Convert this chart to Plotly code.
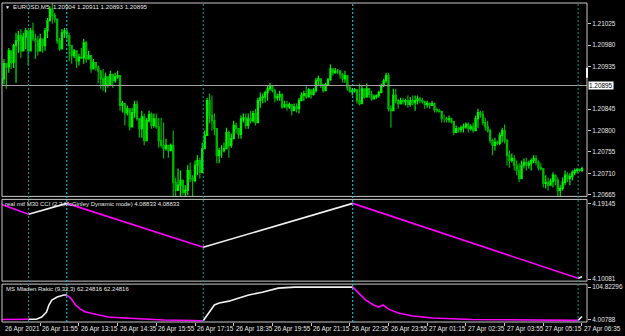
import numpy as np
import pandas as pd
import plotly.graph_objects as go

# ---------------- data ----------------
chart_title = "EURUSD,M5  1.20904 1.20911 1.20893 1.20895"
cci_title = "real mtf M30 CCI (2,2,McGinley Dynamic mode) 4.08833 4.08833"
rakic_title = "MS Mladen Rakic (9,32,3) 62.24816 62.24816"
start_time = "2021-04-26 10:35"
first_open = 1.20900

high = [1.20943,1.20951,1.20941,1.20974,1.20958,1.20983,1.21006,1.21010,1.21014,1.21006,
        1.21016,1.21004,1.21016,1.21027,1.21004,1.21000,1.21004,1.20993,1.21016,1.21037,
        1.21062,1.21069,1.21048,1.21035,1.20995,1.21014,1.21016,1.21010,1.21006,1.20979,
        1.20972,1.20968,1.20962,1.20974,1.20993,1.20989,1.20968,1.20953,1.20951,1.20943,
        1.20937,1.20926,1.20930,1.20922,1.20911,1.20926,1.20920,1.20922,1.20926,1.20911,
        1.20863,1.20857,1.20853,1.20836,1.20848,1.20863,1.20863,1.20825,1.20842,1.20836,
        1.20827,1.20842,1.20838,1.20836,1.20836,1.20827,1.20827,1.20817,1.20783,1.20769,
        1.20773,1.20800,1.20701,1.20720,1.20716,1.20695,1.20685,1.20727,1.20733,1.20706,
        1.20737,1.20748,1.20743,1.20775,1.20800,1.20869,1.20878,1.20874,1.20836,1.20804,
        1.20764,1.20769,1.20775,1.20806,1.20800,1.20794,1.20821,1.20817,1.20804,1.20832,
        1.20836,1.20836,1.20836,1.20842,1.20842,1.20846,1.20869,1.20880,1.20878,1.20884,
        1.20895,1.20901,1.20895,1.20888,1.20878,1.20884,1.20878,1.20863,1.20863,1.20859,
        1.20853,1.20857,1.20857,1.20869,1.20880,1.20884,1.20895,1.20890,1.20884,1.20890,
        1.20911,1.20916,1.20905,1.20899,1.20901,1.20911,1.20939,1.20930,1.20932,1.20930,
        1.20926,1.20922,1.20926,1.20909,1.20895,1.20890,1.20890,1.20884,1.20899,1.20895,
        1.20876,1.20899,1.20890,1.20884,1.20876,1.20876,1.20884,1.20899,1.20909,1.20922,
        1.20922,1.20853,1.20888,1.20888,1.20867,1.20869,1.20869,1.20867,1.20874,1.20871,
        1.20874,1.20874,1.20874,1.20871,1.20869,1.20863,1.20863,1.20859,1.20863,1.20859,
        1.20848,1.20846,1.20842,1.20834,1.20829,1.20832,1.20827,1.20821,1.20811,1.20808,
        1.20811,1.20815,1.20817,1.20817,1.20813,1.20817,1.20832,1.20846,1.20842,1.20842,
        1.20827,1.20821,1.20804,1.20783,1.20785,1.20779,1.20796,1.20806,1.20813,1.20783,
        1.20758,1.20752,1.20748,1.20737,1.20731,1.20737,1.20741,1.20743,1.20737,1.20741,
        1.20748,1.20748,1.20737,1.20731,1.20720,1.20706,1.20701,1.20699,1.20712,1.20706,
        1.20701,1.20685,1.20701,1.20716,1.20712,1.20710,1.20716,1.20720,1.20722,1.20720,1.20724]

low = [1.20895,1.20897,1.20888,1.20922,1.20930,1.20932,1.20901,1.20964,1.20953,1.20985,
       1.20972,1.20937,1.20979,1.20989,1.20951,1.20958,1.20972,1.20964,1.20968,1.20995,
       1.21031,1.21025,1.21027,1.20983,1.20968,1.20989,1.20995,1.20989,1.20947,1.20941,
       1.20953,1.20932,1.20937,1.20951,1.20941,1.20943,1.20951,1.20922,1.20932,1.20926,
       1.20899,1.20888,1.20884,1.20880,1.20890,1.20899,1.20890,1.20901,1.20909,1.20842,
       1.20838,1.20811,1.20832,1.20800,1.20815,1.20827,1.20821,1.20785,1.20785,1.20769,
       1.20806,1.20817,1.20804,1.20806,1.20804,1.20764,1.20764,1.20741,1.20758,1.20743,
       1.20762,1.20659,1.20659,1.20678,1.20659,1.20664,1.20659,1.20664,1.20691,1.20659,
       1.20691,1.20706,1.20699,1.20710,1.20762,1.20790,1.20815,1.20800,1.20790,1.20731,
       1.20731,1.20743,1.20754,1.20764,1.20743,1.20764,1.20783,1.20794,1.20783,1.20783,
       1.20817,1.20804,1.20804,1.20815,1.20817,1.20811,1.20842,1.20848,1.20857,1.20859,
       1.20863,1.20884,1.20880,1.20859,1.20863,1.20863,1.20846,1.20848,1.20842,1.20846,
       1.20832,1.20842,1.20838,1.20836,1.20863,1.20863,1.20867,1.20878,1.20867,1.20874,
       1.20880,1.20895,1.20890,1.20880,1.20890,1.20895,1.20905,1.20916,1.20920,1.20920,
       1.20909,1.20901,1.20901,1.20884,1.20880,1.20874,1.20880,1.20857,1.20853,1.20880,
       1.20867,1.20869,1.20869,1.20863,1.20867,1.20867,1.20869,1.20880,1.20892,1.20901,
       1.20840,1.20806,1.20842,1.20857,1.20846,1.20855,1.20855,1.20853,1.20848,1.20850,
       1.20853,1.20842,1.20855,1.20857,1.20857,1.20846,1.20848,1.20846,1.20853,1.20838,
       1.20838,1.20838,1.20817,1.20817,1.20817,1.20817,1.20815,1.20790,1.20796,1.20796,
       1.20796,1.20796,1.20804,1.20796,1.20800,1.20796,1.20800,1.20806,1.20827,1.20811,
       1.20800,1.20796,1.20773,1.20748,1.20758,1.20769,1.20769,1.20775,1.20773,1.20727,
       1.20722,1.20733,1.20716,1.20706,1.20691,1.20706,1.20720,1.20716,1.20720,1.20716,
       1.20731,1.20727,1.20716,1.20716,1.20680,1.20678,1.20674,1.20685,1.20680,1.20685,
       1.20661,1.20661,1.20674,1.20685,1.20691,1.20685,1.20695,1.20706,1.20710,1.20712,1.20712]

close = [1.20909,1.20941,1.20934,1.20968,1.20943,1.20979,1.20989,1.21000,1.20968,1.20997,
         1.21010,1.20968,1.21010,1.20993,1.20989,1.20968,1.20993,1.20979,1.21010,1.21031,
         1.21056,1.21042,1.21035,1.20989,1.20972,1.21006,1.21010,1.21000,1.20979,1.20958,
         1.20968,1.20947,1.20955,1.20953,1.20985,1.20951,1.20958,1.20930,1.20943,1.20934,
         1.20926,1.20909,1.20895,1.20913,1.20897,1.20918,1.20905,1.20913,1.20916,1.20853,
         1.20857,1.20838,1.20846,1.20808,1.20838,1.20855,1.20825,1.20804,1.20829,1.20779,
         1.20821,1.20834,1.20811,1.20825,1.20808,1.20779,1.20769,1.20762,1.20769,1.20758,
         1.20769,1.20691,1.20674,1.20685,1.20695,1.20670,1.20674,1.20716,1.20699,1.20695,
         1.20727,1.20737,1.20712,1.20762,1.20790,1.20863,1.20832,1.20821,1.20804,1.20748,
         1.20758,1.20758,1.20762,1.20796,1.20769,1.20783,1.20811,1.20804,1.20792,1.20825,
         1.20827,1.20811,1.20825,1.20821,1.20836,1.20817,1.20863,1.20869,1.20871,1.20880,
         1.20888,1.20895,1.20884,1.20869,1.20871,1.20876,1.20850,1.20855,1.20850,1.20855,
         1.20842,1.20850,1.20846,1.20863,1.20874,1.20878,1.20871,1.20886,1.20876,1.20884,
         1.20905,1.20909,1.20897,1.20884,1.20897,1.20907,1.20930,1.20922,1.20926,1.20926,
         1.20918,1.20909,1.20916,1.20890,1.20882,1.20884,1.20886,1.20863,1.20857,1.20888,
         1.20871,1.20888,1.20876,1.20867,1.20871,1.20874,1.20880,1.20895,1.20905,1.20916,
         1.20846,1.20842,1.20874,1.20863,1.20857,1.20863,1.20861,1.20863,1.20855,1.20863,
         1.20859,1.20863,1.20867,1.20863,1.20861,1.20855,1.20857,1.20853,1.20857,1.20844,
         1.20842,1.20840,1.20825,1.20825,1.20823,1.20825,1.20819,1.20796,1.20804,1.20802,
         1.20806,1.20808,1.20813,1.20804,1.20808,1.20800,1.20825,1.20838,1.20834,1.20817,
         1.20808,1.20800,1.20779,1.20769,1.20775,1.20773,1.20790,1.20800,1.20779,1.20748,
         1.20737,1.20741,1.20727,1.20716,1.20699,1.20727,1.20733,1.20727,1.20731,1.20737,
         1.20741,1.20733,1.20722,1.20720,1.20689,1.20691,1.20685,1.20693,1.20706,1.20695,
         1.20674,1.20678,1.20691,1.20706,1.20699,1.20703,1.20712,1.20716,1.20718,1.20716,1.20720]

bid_price = 1.20895
price_ticks = [1.20665, 1.20710, 1.20755, 1.20800, 1.20845, 1.20935, 1.20980, 1.21025]
time_labels = ["26 Apr 2021", "26 Apr 11:55", "26 Apr 13:15", "26 Apr 14:35", "26 Apr 15:55",
               "26 Apr 17:15", "26 Apr 18:35", "26 Apr 19:55", "26 Apr 21:15", "26 Apr 22:35",
               "26 Apr 23:55", "27 Apr 01:15", "27 Apr 02:35", "27 Apr 03:55", "27 Apr 05:15",
               "27 Apr 06:35"]
time_label_times = ["2021-04-26 10:35", "2021-04-26 11:55", "2021-04-26 13:15", "2021-04-26 14:35",
                    "2021-04-26 15:55", "2021-04-26 17:15", "2021-04-26 18:35", "2021-04-26 19:55",
                    "2021-04-26 21:15", "2021-04-26 22:35", "2021-04-26 23:55", "2021-04-27 01:15",
                    "2021-04-27 02:35", "2021-04-27 03:55", "2021-04-27 05:15", "2021-04-27 06:35"]

# signal (M30 turn) times and direction
signal_times = ["2021-04-26 11:31", "2021-04-26 12:50", "2021-04-26 17:32",
                "2021-04-26 22:41", "2021-04-27 06:27"]
signal_dirs = ["up", "down", "up", "down", "up"]

# mtf CCI sub-window
cci_times = ["2021-04-26 10:35", "2021-04-26 11:31", "2021-04-26 12:50", "2021-04-26 17:32",
             "2021-04-26 22:41", "2021-04-27 06:27", "2021-04-27 06:35"]
cci_values = [4.19026, 4.17833, 4.19145, 4.13897, 4.19145, 4.10180, 4.10360]
cci_labels = [4.19145, 4.10081]

# Mladen Rakic sub-window
rakic_times = ["2021-04-26 10:35", "2021-04-26 11:31", "2021-04-26 11:47", "2021-04-26 11:58",
               "2021-04-26 12:08", "2021-04-26 12:13", "2021-04-26 12:19", "2021-04-26 12:30",
               "2021-04-26 12:44", "2021-04-26 12:50", "2021-04-26 12:58", "2021-04-26 13:08",
               "2021-04-26 13:18", "2021-04-26 13:29", "2021-04-26 13:49", "2021-04-26 14:15",
               "2021-04-26 14:50", "2021-04-26 15:37", "2021-04-26 16:11", "2021-04-26 17:32",
               "2021-04-26 17:45", "2021-04-26 17:55", "2021-04-26 18:05", "2021-04-26 18:25",
               "2021-04-26 18:46", "2021-04-26 19:06", "2021-04-26 19:34", "2021-04-26 20:07",
               "2021-04-26 20:41", "2021-04-26 22:41", "2021-04-26 22:54", "2021-04-26 23:08",
               "2021-04-26 23:24", "2021-04-26 23:34", "2021-04-26 23:44", "2021-04-26 23:55",
               "2021-04-27 00:15", "2021-04-27 00:45", "2021-04-27 01:26", "2021-04-27 02:47",
               "2021-04-27 06:27", "2021-04-27 06:35"]
rakic_values = [3.7, 4.5, 4.7, 11.5, 27.0, 49.0, 64.0, 74.0, 80.0, 80.0, 70.6, 49.0, 36.0, 27.0,
                21.0, 11.5, 8.4, 5.3, 2.2, 0.0, 27.0, 49.0, 55.0, 61.0, 70.6, 80.0, 89.0, 101.5,
                104.8, 104.8, 86.0, 64.0, 49.0, 42.6, 49.0, 36.0, 24.0, 14.6, 8.4, 3.7, 1.2, 13.0]
rakic_labels = [104.82296, 4.00788]

# ---------------- helpers ----------------
W, H = 625, 336
L, R, T, B = 2, 28, 2, 14
PW, PH = W - L - R, H - T - B
BAR_PX = 2.46
XR = [0.2, 0.2 + PW / BAR_PX]
t0 = pd.Timestamp(start_time)


def bar_of(ts):
    return (pd.Timestamp(ts) - t0) / pd.Timedelta(minutes=5)


def pxx(x):
    return (x - L) / PW


def pyy(y):
    return (H - B - y) / PH


def bar_paper(b):
    return (b - XR[0]) / (XR[1] - XR[0])


n = len(close)
idx = np.arange(n)
opens = [first_open] + close[:-1]
hi = [max(h, o, c) for h, o, c in zip(high, opens, close)]
lo = [min(l, o, c) for l, o, c in zip(low, opens, close)]

WHITE = "#f0f0f0"
MAG = "#ff00ff"
FONT = "Liberation Sans"
TXT = "#e6e6e6"

fig = go.Figure()
fig.add_trace(go.Candlestick(
    x=idx, open=opens, high=hi, low=lo, close=close,
    increasing=dict(line=dict(color="#00ee00", width=1.2), fillcolor="#00ee00"),
    decreasing=dict(line=dict(color="#00b400", width=1.2), fillcolor="#007000"),
    whiskerwidth=0, xaxis="x", yaxis="y", hoverinfo="skip", showlegend=False))

sig_bars = [bar_of(t) for t in signal_times]


def phased(times, values, xa, ya):
    bars = [bar_of(t) for t in times]
    edges = [-1e9] + sig_bars + [1e9]
    dirs = ["down"] + signal_dirs
    for k in range(len(edges) - 1):
        a, b = edges[k], edges[k + 1]
        seg = [(bx, v) for bx, v in zip(bars, values) if a - 1e-6 <= bx <= b + 1e-6]
        if len(seg) < 2:
            continue
        col = WHITE if dirs[k] == "up" else MAG
        fig.add_trace(go.Scatter(x=[s[0] for s in seg], y=[s[1] for s in seg], mode="lines",
                                 line=dict(color=col, width=1.6), xaxis=xa, yaxis=ya,
                                 hoverinfo="skip", showlegend=False))


phased(cci_times, cci_values, "x2", "y2")
phased(rakic_times, rakic_values, "x3", "y3")

axis_common = dict(showgrid=False, zeroline=False, showline=False, fixedrange=True)
tick_font = dict(family=FONT, size=6.4, color=TXT)

fig.update_layout(
    width=W, height=H, margin=dict(l=L, r=R, t=T, b=B),
    paper_bgcolor="black", plot_bgcolor="black",
    xaxis=dict(domain=[0, 1], anchor="y", range=XR, showticklabels=False, ticks="",
               rangeslider=dict(visible=False), **axis_common),
    xaxis2=dict(domain=[0, 1], anchor="y2", range=XR, matches="x", showticklabels=False,
                ticks="", **axis_common),
    xaxis3=dict(domain=[0, 1], anchor="y3", range=XR, matches="x", showticklabels=False,
                ticks="outside", ticklen=3, tickcolor="#c8c8c8",
                tickvals=[bar_of(t) for t in time_label_times], **axis_common),
    yaxis=dict(domain=[pyy(196), pyy(2)], range=[1.206614, 1.210688], side="right",
               tickvals=price_ticks, tickformat=".5f", ticks="outside", ticklen=3,
               tickcolor="#c8c8c8", tickfont=tick_font, **axis_common),
    yaxis2=dict(domain=[pyy(281), pyy(199)], range=[4.09842, 4.19622], side="right",
                tickvals=cci_labels, tickformat=".5f", ticks="outside", ticklen=3,
                tickcolor="#c8c8c8", tickfont=tick_font, **axis_common),
    yaxis3=dict(domain=[pyy(322), pyy(284)], range=[-4.0, 114.1], side="right",
                tickvals=rakic_labels, tickformat=".5f", ticks="outside", ticklen=3,
                tickcolor="#c8c8c8", tickfont=tick_font, **axis_common),
)

shapes = []
shapes.append(dict(type="line", xref="paper", yref="y", x0=0, x1=1, y0=bid_price, y1=bid_price,
                   line=dict(color="#a0a0a0", width=1)))
for (ya, yb) in [(2, 196), (199, 281), (284, 322)]:
    shapes.append(dict(type="rect", xref="paper", yref="paper", x0=pxx(2), x1=pxx(597),
                       y0=pyy(yb), y1=pyy(ya), line=dict(color="#c8c8c8", width=1)))
for sb, d in zip(sig_bars, signal_dirs):
    col = "#0b9a9a" if d == "up" else "#00e0f0"
    shapes.append(dict(type="line", xref="x", yref="paper", x0=sb, x1=sb, y0=0, y1=1,
                       line=dict(color=col, width=1, dash="2px,2px")))
shapes.append(dict(type="rect", xref="paper", yref="paper", x0=pxx(596), x1=pxx(598),
                   y0=pyy(77), y1=pyy(67), fillcolor="white", line=dict(width=0)))
fig.update_layout(shapes=shapes)

ann = []
ann.append(dict(x=pxx(3), y=pyy(6), xref="paper", yref="paper", text="▼", showarrow=False,
                xanchor="left", yanchor="middle", font=dict(family=FONT, size=5, color=TXT)))
ann.append(dict(x=pxx(11), y=pyy(6), xref="paper", yref="paper", text=chart_title,
                showarrow=False, xanchor="left", yanchor="middle",
                font=dict(family=FONT, size=6.2, color=TXT)))
ann.append(dict(x=pxx(3), y=pyy(204), xref="paper", yref="paper", text=cci_title,
                showarrow=False, xanchor="left", yanchor="middle",
                font=dict(family=FONT, size=6.0, color=TXT)))
ann.append(dict(x=pxx(4), y=pyy(288.5), xref="paper", yref="paper", text=rakic_title,
                showarrow=False, xanchor="left", yanchor="middle",
                font=dict(family=FONT, size=6.0, color=TXT)))
ann.append(dict(x=pxx(598), y=bid_price, xref="paper", yref="y",
                text=f"{bid_price:.5f}", showarrow=False, xanchor="left", yanchor="middle",
                bgcolor="white", font=dict(family=FONT, size=6.4, color="black"),
                borderpad=0))
for t, lab in zip(time_label_times, time_labels):
    ann.append(dict(x=max(bar_paper(bar_of(t)), pxx(3)), y=pyy(329), xref="paper", yref="paper",
                    text=lab, showarrow=False, xanchor="left", yanchor="middle",
                    font=dict(family=FONT, size=6.4, color=TXT)))
fig.update_layout(annotations=ann)

fig.write_html("out.html")
